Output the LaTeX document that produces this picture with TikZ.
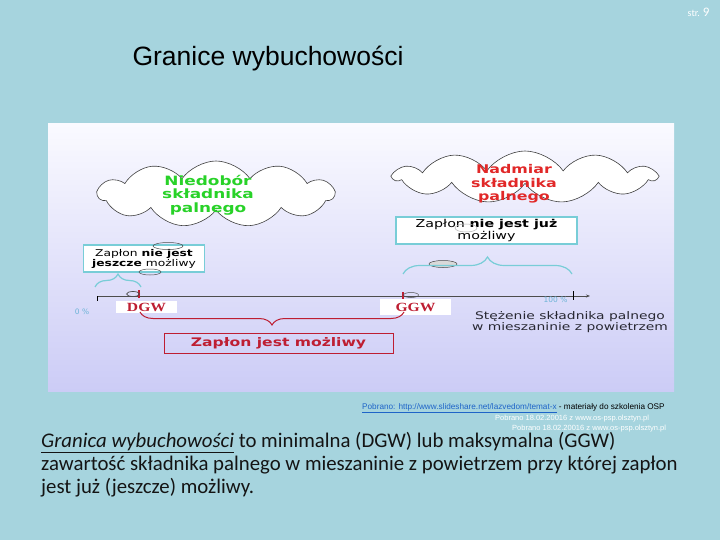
\documentclass[tikz,border=0pt]{standalone}
\usepackage{fontspec}
\setmainfont{Liberation Sans}
\newfontfamily\dv{DejaVu Sans}
\newfontfamily\dvw[FakeStretch=1.32]{DejaVu Sans}
\newfontfamily\lserif[FakeStretch=1.25]{Liberation Serif}
\newfontfamily\carl{Carlito}
\usetikzlibrary{shapes.symbols,shapes.geometric,decorations.pathreplacing,arrows.meta}
\definecolor{bgblue}{RGB}{166,212,222}
\definecolor{paneltop}{RGB}{250,250,255}
\definecolor{panelbot}{RGB}{204,204,246}
\definecolor{cyanb}{RGB}{120,205,215}
\definecolor{dred}{RGB}{190,30,50}
\definecolor{cgreen}{RGB}{40,210,40}
\definecolor{cred}{RGB}{225,40,40}
\definecolor{pctc}{RGB}{110,180,215}
\definecolor{txtgray}{RGB}{40,40,50}
\definecolor{linkblue}{RGB}{30,100,200}
\tikzset{
  cloudbox/.style={cloud, cloud puffs=11, cloud puff arc=110, draw=black!75, fill=white, line width=0.6pt, inner sep=0pt},
  cyanbox/.style={draw=cyanb, line width=1.2pt, fill=white, inner sep=2pt, align=center},
  redbox/.style={draw=dred, line width=1pt, inner sep=0pt},
  labbox/.style={fill=white, inner sep=0pt},
  blob/.style={ellipse, draw=black!70, line width=0.5pt, inner sep=0pt},
  cbrace/.style={draw=cyanb, line width=1.2pt, decorate, decoration={brace, amplitude=#1}},
  rbrace/.style={draw=dred, line width=1pt, decorate, decoration={brace, mirror, amplitude=#1}},
}
\begin{document}
\begin{tikzpicture}[x=1pt,y=-1pt]
\useasboundingbox (0,0) rectangle (720,540);
\fill[bgblue] (0,0) rectangle (720,540);
% panel
\shade[top color=paneltop, bottom color=panelbot] (48,124) rectangle (674,391);
% header
\node[anchor=east, text=white, font=\carl\fontsize{10}{12}\selectfont] (page) at (713,12) {str. {\fontsize{13}{13}\selectfont 9}};
\node[anchor=west, font=\fontsize{26.5}{30}\selectfont, text=black] (title) at (129,58) {Granice wybuchowości};
% clouds
\node[cloudbox, minimum width=236pt, minimum height=66pt] (c1) at (216,194) {};
\node[align=center, text=cgreen, font=\dvw\bfseries\fontsize{12.8}{13.5}\selectfont] (c1t) at (208,195) {Niedobór\\składnika\\palnego};
\node[cloudbox, minimum width=262pt, minimum height=52pt] (c2) at (525,177) {};
\node[align=center, text=cred, font=\dvw\bfseries\fontsize{12}{13.5}\selectfont] (c2t) at (514,184) {Nadmiar\\składnika\\palnego};
% boxes
\node[cyanbox, minimum width=121pt, minimum height=27pt, font=\dvw\fontsize{9.3}{10}\selectfont] (b1) at (144,258.5) {Zapłon \textbf{nie jest}\\\textbf{jeszcze} możliwy};
\node[cyanbox, minimum width=181pt, minimum height=27pt, font=\dvw\fontsize{10.8}{10.5}\selectfont] (b2) at (486.5,230.5) {Zapłon \textbf{nie jest już}\\możliwy};
\node[redbox, minimum width=229pt, minimum height=20pt, text=dred, font=\dvw\bfseries\fontsize{11.8}{12}\selectfont] (b3) at (278.5,343) {Zapłon jest możliwy};
% small ellipses
\node[blob, minimum width=30pt, minimum height=7pt] (e1) at (168,246) {};
\node[blob, minimum width=22pt, minimum height=6pt] (e2) at (150,272) {};
\node[blob, minimum width=28pt, minimum height=7pt, fill=black!15] (e3) at (443,264) {};
\node[blob, draw=black!30, minimum width=22pt, minimum height=8pt] (e4) at (466,228) {};
% axis
\coordinate (a0) at (97,296);
\coordinate (a1) at (590,296);
\draw[black!70, line width=0.6pt, -{Stealth[length=4pt,width=3pt]}] (a0) -- (a1);
\coordinate (t0a) at (97,296); \coordinate (t0b) at (97,301);
\draw[black, line width=0.8pt] (t0a) -- (t0b);
\coordinate (t1a) at (573,291); \coordinate (t1b) at (573,300);
\draw[black, line width=0.8pt] (t1a) -- (t1b);
\coordinate (dga) at (139,290); \coordinate (dgb) at (139,298);
\draw[dred, line width=1.2pt] (dga) -- (dgb);
\coordinate (gga) at (403,292); \coordinate (ggb) at (403,300);
\draw[dred, line width=1.2pt] (gga) -- (ggb);
\node[blob, line width=0.7pt, minimum width=13pt, minimum height=5pt] (e5) at (133,294) {};
\node[blob, minimum width=15pt, minimum height=5pt] (e6) at (411,295) {};
\node[text=pctc, font=\dv\fontsize{7.5}{8}\selectfont] (p0) at (82,312) {0 \%};
\node[anchor=east, text=pctc, font=\dv\fontsize{7.5}{8}\selectfont] (p100) at (571,300) {100 \%};
% labels
\node[labbox, minimum width=61pt, minimum height=12pt, text=dred, font=\lserif\bfseries\fontsize{12.5}{12}\selectfont] (dgw) at (146.5,307) {DGW};
\node[labbox, minimum width=71pt, minimum height=16pt, text=dred, font=\lserif\bfseries\fontsize{12.5}{12}\selectfont] (ggw) at (415.5,307) {GGW};
% braces
\coordinate (br1a) at (95,287); \coordinate (br1b) at (141,287);
\draw[cbrace=13pt] (br1a) -- (br1b);
\coordinate (br2a) at (403,274); \coordinate (br2b) at (572,274);
\draw[cbrace=17pt] (br2a) -- (br2b);
\coordinate (br3a) at (140,312); \coordinate (br3b) at (404,312);
\draw[rbrace=13pt] (br3a) -- (br3b);
% axis caption
\node[align=center, text=txtgray, font=\dvw\fontsize{10.5}{11.5}\selectfont] (cap) at (570,322) {Stężenie składnika palnego\\w mieszaninie z powietrzem};
% sources
\node[anchor=west, inner sep=0pt, font=\fontsize{8.2}{9}\selectfont] (src1) at (362,408) {\textcolor{linkblue}{\underline{Pobrano: http://www.slideshare.net/lazvedom/temat-x}} - materiały do szkolenia OSP};
\node[anchor=west, inner sep=0pt, text=white, font=\fontsize{7.5}{8}\selectfont] (src2) at (495,419) {Pobrano 18.02.20016 z www.os-psp.olsztyn.pl};
\node[anchor=west, inner sep=0pt, text=white, font=\fontsize{7.5}{8}\selectfont] (src3) at (512,429) {Pobrano 18.02.20016 z www.os-psp.olsztyn.pl};
% body
\node[anchor=north west, inner sep=0pt, align=left, text=black!92, font=\carl\fontsize{20.8}{23}\selectfont] (body) at (41,432) {\underline{\itshape Granica wybuchowości} to minimalna (DGW) lub maksymalna (GGW)\\zawartość składnika palnego w mieszaninie z powietrzem przy której zapłon\\jest już (jeszcze) możliwy.};
\end{tikzpicture}
\end{document}
